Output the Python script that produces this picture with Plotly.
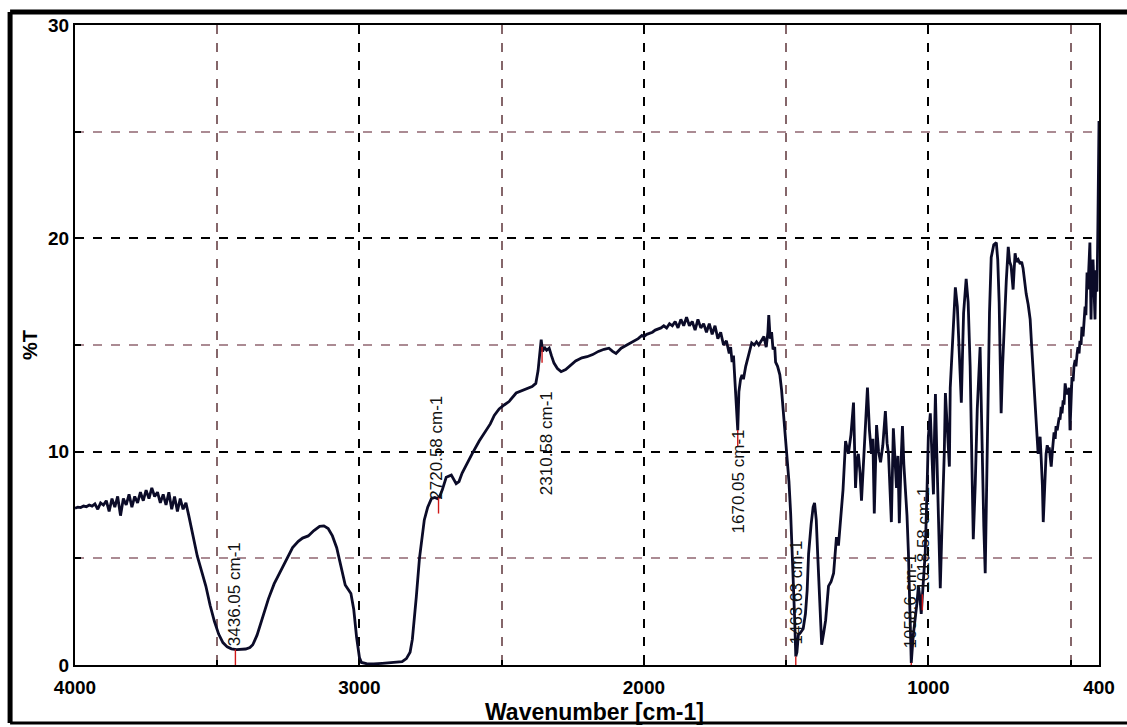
import plotly.graph_objects as go
import numpy as np

# ---- spectrum data (wavenumber cm-1, %T) ----
wavenumber = [
    4000, 3990, 3980, 3970, 3960, 3950, 3940, 3930, 3920, 3910,
    3900, 3890, 3880, 3870, 3860, 3850, 3840, 3830, 3820, 3810,
    3800, 3790, 3780, 3770, 3760, 3750, 3740, 3730, 3720, 3710,
    3700, 3690, 3680, 3670, 3660, 3650, 3640, 3630, 3620, 3610,
    3600, 3595, 3585, 3570, 3555, 3540, 3525, 3510, 3495, 3480,
    3465, 3450, 3432, 3415, 3400, 3385, 3375, 3360, 3340, 3320,
    3300, 3281, 3260, 3235, 3215, 3200, 3180, 3160, 3140, 3125,
    3110, 3095, 3080, 3070, 3060, 3050, 3040, 3030, 3020, 3010,
    3000, 2993, 2975, 2950, 2920, 2900, 2870, 2850, 2835, 2822,
    2814, 2805, 2800, 2789, 2780, 2772, 2760, 2747, 2735, 2726,
    2718, 2709, 2695, 2677, 2660, 2650, 2639, 2620, 2604, 2579,
    2560, 2540, 2526, 2509, 2490, 2474, 2449, 2430, 2410, 2393,
    2380, 2372, 2366, 2361, 2356, 2350, 2342, 2333, 2325, 2316,
    2304, 2291, 2275, 2255, 2240, 2218, 2200, 2180, 2160, 2140,
    2123, 2110, 2098, 2080, 2060, 2040, 2020, 2007, 2000, 1990,
    1980, 1970, 1960, 1950, 1940, 1930, 1920, 1910, 1900, 1890,
    1880, 1870, 1860, 1850, 1840, 1830, 1820, 1810, 1800, 1790,
    1780, 1770, 1760, 1750, 1740, 1730, 1720, 1710, 1700, 1695,
    1690, 1685, 1680, 1675, 1670, 1666, 1660, 1655, 1650, 1642,
    1635, 1628, 1621, 1612, 1604, 1596, 1586, 1578, 1570, 1564,
    1561, 1556, 1551, 1546, 1540, 1537, 1530, 1522, 1516, 1508,
    1498, 1490, 1484, 1478, 1474, 1470, 1466, 1462, 1457, 1450,
    1440, 1432, 1426, 1421, 1412, 1405, 1400, 1394, 1389, 1382,
    1375, 1368, 1361, 1351, 1342, 1333, 1323, 1316, 1309, 1300,
    1291, 1281, 1272, 1263, 1256, 1251, 1246, 1240, 1235, 1225,
    1214, 1207, 1200, 1195, 1190, 1182, 1175, 1168, 1160, 1151,
    1145, 1140, 1135, 1130, 1123, 1117, 1112, 1107, 1102, 1096,
    1091, 1086, 1081, 1075, 1070, 1065, 1060, 1053, 1046, 1040,
    1035, 1030, 1025, 1018, 1011, 1005, 1000, 993, 988, 982,
    978, 975, 970, 965, 958, 952, 944, 940, 933, 926,
    923, 914, 905, 898, 890, 884, 880, 876, 867, 860,
    853, 847, 842, 835, 828, 818, 811, 805, 800, 795,
    790, 785, 779, 770, 761, 756, 751, 748, 744, 739,
    733, 726, 719, 714, 709, 705, 702, 698, 695, 690,
    684, 677, 672, 667, 662, 656, 649, 642, 637, 632,
    627, 621, 617, 614, 610, 607, 603, 599, 596, 592,
    589, 586, 582, 578, 575, 571, 568, 564, 561, 558,
    554, 551, 547, 544, 540, 537, 533, 530, 526, 523,
    519, 516, 512, 509, 505, 502, 498, 495, 491, 488,
    484, 481, 477, 474, 470, 467, 463, 460, 456, 453,
    449, 446, 442, 439, 435, 432, 428, 425, 421, 418,
    414, 411, 407, 404, 402, 400,
]
transmittance = [
    7.35, 7.40, 7.38, 7.45, 7.42, 7.50, 7.45, 7.55, 7.30, 7.60,
    7.50, 7.70, 7.20, 7.80, 7.40, 7.90, 7.00, 7.80, 7.50, 8.00,
    7.40, 7.90, 7.60, 8.10, 7.70, 8.20, 7.80, 8.30, 7.90, 8.10,
    7.60, 8.00, 7.50, 8.10, 7.30, 7.90, 7.20, 7.80, 7.30, 7.60,
    7.00, 6.70, 6.00, 5.10, 4.40, 3.70, 2.80, 2.05, 1.45, 1.05,
    0.85, 0.76, 0.72, 0.72, 0.75, 0.82, 0.95, 1.40, 2.25, 3.10,
    3.80, 4.30, 4.90, 5.50, 5.80, 5.95, 6.05, 6.30, 6.50, 6.52,
    6.40, 6.05, 5.50, 4.90, 4.20, 3.75, 3.55, 3.35, 2.60, 1.30,
    0.35, 0.12, 0.06, 0.05, 0.08, 0.10, 0.14, 0.16, 0.30, 0.60,
    1.20, 2.40, 3.20, 5.00, 6.00, 6.80, 7.40, 7.80, 7.85, 7.80,
    7.90, 8.20, 8.80, 8.90, 8.50, 8.60, 9.00, 9.50, 9.90, 10.50,
    10.90, 11.30, 11.70, 12.00, 12.20, 12.35, 12.75, 12.85, 12.95, 13.05,
    13.20, 13.80, 14.60, 15.25, 14.70, 14.90, 14.75, 14.85, 14.50, 14.15,
    13.90, 13.75, 13.85, 14.10, 14.25, 14.40, 14.45, 14.55, 14.70, 14.80,
    14.85, 14.70, 14.60, 14.85, 15.00, 15.15, 15.30, 15.45, 15.40, 15.50,
    15.55, 15.60, 15.70, 15.75, 15.80, 15.90, 15.80, 16.00, 15.90, 16.10,
    15.80, 16.20, 15.90, 16.30, 15.90, 16.10, 15.70, 16.20, 15.80, 16.00,
    15.60, 16.00, 15.50, 15.90, 15.30, 15.60, 15.00, 15.20, 14.60, 14.90,
    14.20, 14.50, 13.40, 12.60, 11.00, 12.80, 13.40, 13.60, 13.40, 14.00,
    14.40, 14.80, 15.10, 15.00, 15.15, 15.00, 15.20, 15.40, 14.90, 15.60,
    16.40, 15.30, 15.60, 14.80, 14.90, 14.20, 14.00, 13.60, 12.90, 11.60,
    10.20, 8.60, 7.10, 5.20, 4.00, 2.20, 0.40, 0.60, 1.40, 1.50,
    1.70, 2.40, 3.50, 5.20, 6.60, 7.40, 7.60, 6.80, 5.20, 2.80,
    0.95, 1.50, 2.10, 3.70, 3.90, 4.30, 6.00, 5.60, 6.80, 8.20,
    10.50, 9.90, 10.80, 12.30, 8.30, 9.60, 9.90, 9.00, 7.70, 10.50,
    13.00, 11.00, 9.90, 10.60, 7.10, 11.25, 10.00, 9.50, 10.30, 11.90,
    10.40, 9.90, 8.00, 6.70, 11.10, 9.60, 8.30, 9.80, 6.65, 9.50,
    11.20, 9.40, 8.30, 7.00, 5.25, 2.60, 0.10, 1.40, 2.10, 2.90,
    3.70, 3.20, 2.40, 4.00, 5.25, 8.00, 10.70, 11.80, 10.20, 8.00,
    11.00, 12.70, 9.80, 6.80, 3.60, 6.50, 9.90, 12.75, 11.00, 9.30,
    13.00, 15.50, 17.70, 16.80, 14.00, 12.30, 14.50, 16.50, 18.10, 17.00,
    14.00, 9.50, 5.90, 8.50, 12.00, 14.90, 9.90, 6.50, 4.30, 8.50,
    13.00, 16.50, 19.10, 19.70, 19.80, 19.00, 17.00, 14.50, 11.80, 14.00,
    16.20, 18.00, 19.60, 18.90, 18.70, 17.90, 17.60, 18.60, 19.30, 18.90,
    19.00, 18.80, 18.90, 18.60, 18.00, 17.40, 16.90, 16.20, 15.00, 13.80,
    12.50, 11.20, 10.50, 9.90, 10.40, 10.70, 9.60, 8.40, 6.70, 8.30,
    9.40, 9.90, 10.30, 10.10, 10.20, 9.70, 9.30, 10.00, 10.60, 10.90,
    10.60, 11.20, 11.00, 11.20, 11.60, 11.50, 12.10, 11.80, 12.40, 12.20,
    13.20, 12.90, 12.70, 12.75, 13.00, 11.00, 13.00, 13.50, 13.30, 14.00,
    14.30, 14.00, 14.60, 14.90, 14.60, 15.20, 15.00, 15.85, 15.40, 16.30,
    16.80, 16.40, 18.40, 17.60, 19.20, 19.80, 16.20, 18.50, 19.00, 17.40,
    16.20, 18.50, 17.50, 20.50, 22.50, 25.50,
]

# ---- peak labels ----
peak_text = ["3436.05 cm-1", "2720.58 cm-1", "2310.58 cm-1", "1670.05 cm-1",
             "1463.63 cm-1", "1058.6 cm-1", "1018.58 cm-1"]
peak_pos = [3436.05, 2722, 2358, 1670.05, 1466, 1060, 1021]
label_pos_x = [3439, 2730, 2344, 1666, 1465, 1063, 1017]
label_pos_y = [3.3, 10.2, 10.4, 8.6, 3.4, 3.0, 5.9]

x_major = [4000, 3000, 2000, 1000, 400]
x_major_text = ["4000", "3000", "2000", "1000", "400"]
x_minor = [3500, 2500, 1500, 500]
y_major = [0, 10, 20, 30]
y_minor = [5, 15, 25]

wn = np.array(wavenumber, dtype=float)
tr = np.array(transmittance, dtype=float)

fig = go.Figure()
fig.add_trace(go.Scatter(x=wn, y=tr, mode="lines",
                         line=dict(color="#0b0b28", width=2.8),
                         hoverinfo="skip", showlegend=False))

# red peak markers, hanging from the curve
order = np.argsort(wn)
for p in peak_pos:
    yc = float(np.interp(p, wn[order], tr[order]))
    fig.add_trace(go.Scatter(x=[p, p], y=[yc, max(yc - 0.75, 0)], mode="lines",
                             line=dict(color="#d01818", width=1.4),
                             hoverinfo="skip", showlegend=False))

FONT = "Arial, Liberation Sans, sans-serif"
annotations = []
for t, lx, ly in zip(peak_text, label_pos_x, label_pos_y):
    annotations.append(dict(x=lx, y=ly, xref="x", yref="y", text=t, showarrow=False,
                            textangle=-90, xanchor="center", yanchor="middle",
                            font=dict(family=FONT, size=17, color="#111")))

annotations.append(dict(x=-0.0439, y=0.5, xref="paper", yref="paper", text="%T",
                        showarrow=False, textangle=-90, xanchor="center", yanchor="middle",
                        font=dict(family=FONT, size=20, color="black", weight="bold")))
annotations.append(dict(x=0.507, y=-0.0734, xref="paper", yref="paper", text="Wavenumber [cm-1]",
                        showarrow=False, xanchor="center", yanchor="middle",
                        font=dict(family=FONT, size=23, color="black", weight="bold")))

minor_grid_v = "rgba(120,85,90,0.9)"
minor_grid_h = "rgba(150,110,120,0.8)"

fig.update_layout(
    width=1127, height=727,
    margin=dict(l=75, r=26, t=25, b=62),
    paper_bgcolor="white", plot_bgcolor="white",
    showlegend=False,
    annotations=annotations,
    xaxis=dict(range=[4000, 400], autorange=False,
               tickmode="array", tickvals=x_major, ticktext=x_major_text,
               showgrid=True, gridcolor="black", griddash="dash", gridwidth=2,
               showline=True, linecolor="black", linewidth=2, mirror=True,
               ticks="inside", ticklen=5, tickwidth=2, tickcolor="black",
               ticklabelstandoff=4,
               tickfont=dict(family=FONT, size=19, color="black", weight="bold"),
               minor=dict(tickmode="array", tickvals=x_minor, showgrid=True, gridcolor=minor_grid_v,
                          griddash="dash", gridwidth=1.5, ticks="inside", ticklen=5,
                          tickcolor="black", tickwidth=2),
               zeroline=False),
    yaxis=dict(range=[0, 30], autorange=False,
               tickmode="array", tickvals=y_major,
               showgrid=True, gridcolor="black", griddash="dash", gridwidth=2,
               showline=True, linecolor="black", linewidth=2, mirror=True,
               ticks="inside", ticklen=6, tickwidth=2, tickcolor="black",
               tickfont=dict(family=FONT, size=19, color="black", weight="bold"),
               minor=dict(tickmode="array", tickvals=y_minor, showgrid=True, gridcolor=minor_grid_h,
                          griddash="dash", gridwidth=1.5, ticks="inside", ticklen=6,
                          tickcolor="black", tickwidth=2),
               zeroline=False),
)

# outer frame (top, left, bottom)
frame = dict(color="black", width=5)
fig.add_shape(type="line", xref="paper", yref="paper", x0=-0.0634, x1=1.04, y0=1.0203, y1=1.0203, line=frame)
fig.add_shape(type="line", xref="paper", yref="paper", x0=-0.0634, x1=-0.0634, y0=1.0203, y1=-0.0906, line=frame)
fig.add_shape(type="line", xref="paper", yref="paper", x0=-0.0634, x1=1.04, y0=-0.0906, y1=-0.0906,
              line=dict(color="black", width=3))

fig.write_html("out.html")
